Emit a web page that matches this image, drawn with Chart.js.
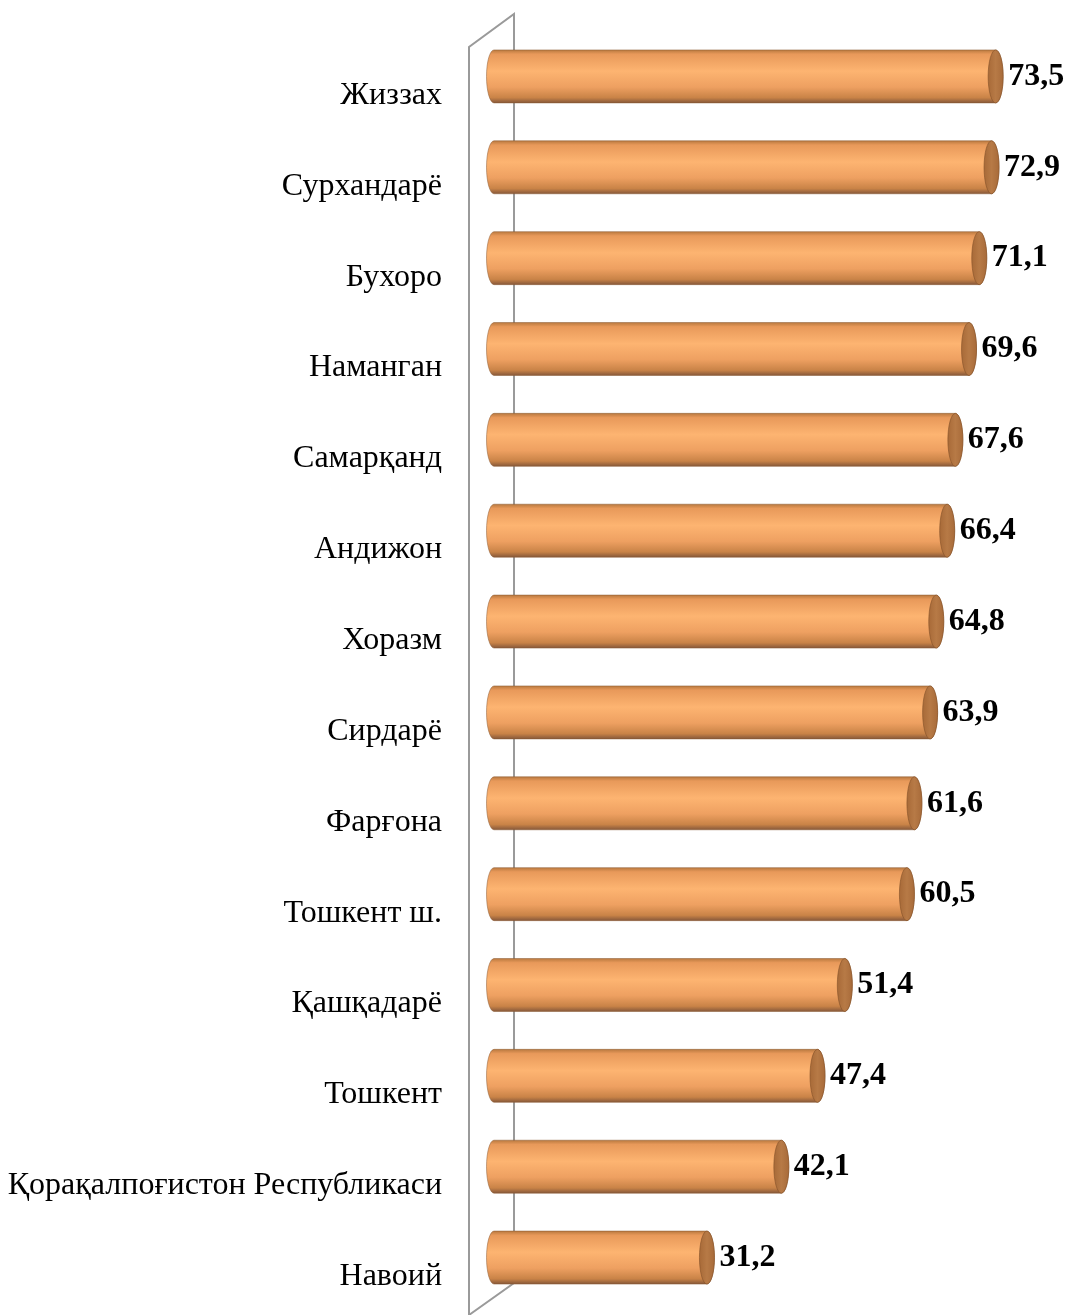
<!DOCTYPE html>
<html>
<head>
<meta charset="utf-8">
<script src="https://cdn.jsdelivr.net/npm/chart.js@4.4.1/dist/chart.umd.min.js"></script>
<style>
html,body{margin:0;padding:0;background:#fff;}
canvas{display:block;}
</style>
</head>
<body>
<canvas id="c" width="1071" height="1315"></canvas>
<script>
const categories = ["Жиззах","Сурхандарё","Бухоро","Наманган","Самарқанд","Андижон","Хоразм","Сирдарё","Фарғона","Тошкент ш.","Қашқадарё","Тошкент","Қорақалпоғистон Республикаси","Навоий"];
const values = [73.5,72.9,71.1,69.6,67.6,66.4,64.8,63.9,61.6,60.5,51.4,47.4,42.1,31.2];
const valueLabels = ["73,5","72,9","71,1","69,6","67,6","66,4","64,8","63,9","61,6","60,5","51,4","47,4","42,1","31,2"];

const wallPlugin = {
  id: 'wall',
  beforeDatasetsDraw(chart) {
    const {ctx, chartArea: a} = chart;
    ctx.save();
    ctx.strokeStyle = '#9a9a9a';
    ctx.lineWidth = 2;
    ctx.beginPath();
    ctx.moveTo(a.left - 25, a.bottom + 14);
    ctx.lineTo(a.left - 25, a.top + 16);
    ctx.lineTo(a.left + 20, a.top - 17);
    ctx.lineTo(a.left + 20, a.bottom - 20);
    ctx.lineTo(a.left - 25, a.bottom + 12);
    ctx.stroke();
    ctx.restore();
  }
};

const cylPlugin = {
  id: 'cyl',
  afterDatasetsDraw(chart) {
    const {ctx} = chart;
    const meta = chart.getDatasetMeta(0);
    meta.data.forEach((el, i) => {
      const p = el.getProps(['x','y','base','height'], true);
      const x0 = p.base, x1 = p.x, cy = p.y, h = p.height;
      const ry = h / 2, rx = 7.5;
      const top = cy - ry, bot = cy + ry;
      ctx.save();
      const g = ctx.createLinearGradient(0, top, 0, bot);
      g.addColorStop(0, '#b9793f');
      g.addColorStop(0.08, '#e8995a');
      g.addColorStop(0.4, '#fdb471');
      g.addColorStop(0.7, '#eea061');
      g.addColorStop(0.9, '#c98347');
      g.addColorStop(1, '#86583a');
      ctx.beginPath();
      ctx.moveTo(x0, top);
      ctx.lineTo(x1, top);
      ctx.ellipse(x1, cy, rx, ry, 0, -Math.PI/2, Math.PI/2, false);
      ctx.lineTo(x0, bot);
      ctx.ellipse(x0, cy, rx, ry, 0, Math.PI/2, Math.PI*1.5, false);
      ctx.closePath();
      ctx.fillStyle = g;
      ctx.fill();
      ctx.strokeStyle = 'rgba(140,90,50,0.5)';
      ctx.lineWidth = 1;
      ctx.stroke();
      const cg = ctx.createLinearGradient(x1 - rx, 0, x1 + rx, 0);
      cg.addColorStop(0, '#a86a38');
      cg.addColorStop(0.5, '#b77a46');
      cg.addColorStop(1, '#a86b3a');
      ctx.beginPath();
      ctx.ellipse(x1, cy, rx, ry, 0, 0, Math.PI*2);
      ctx.fillStyle = cg;
      ctx.fill();
      ctx.strokeStyle = 'rgba(130,80,40,0.6)';
      ctx.stroke();
      ctx.fillStyle = '#000';
      ctx.font = 'bold 32px "Liberation Serif", "Times New Roman", serif';
      ctx.textAlign = 'left';
      ctx.textBaseline = 'middle';
      ctx.fillText(valueLabels[i], x1 + rx + 5, cy);
      ctx.restore();
    });
  }
};

new Chart(document.getElementById('c'), {
  type: 'bar',
  data: {
    labels: categories,
    datasets: [{
      data: values,
      backgroundColor: 'rgba(0,0,0,0)',
      borderWidth: 0,
      barThickness: 53
    }]
  },
  options: {
    indexAxis: 'y',
    responsive: false,
    animation: false,
    layout: { padding: { left: 0, right: 31, top: 31, bottom: 12 } },
    plugins: { legend: { display: false }, tooltip: { enabled: false } },
    scales: {
      x: { display: false, min: 0, max: 80 },
      y: {
        grid: { display: false, drawTicks: false },
        border: { display: false },
        afterFit(scale) { scale.width = 494; scale.paddingTop = 0; scale.paddingBottom = 0; },
        ticks: {
          color: '#000',
          padding: 52,
          labelOffset: 19,
          font: { family: '"Liberation Serif", "Times New Roman", serif', size: 32 }
        }
      }
    }
  },
  plugins: [wallPlugin, cylPlugin]
});
</script>
</body>
</html>
